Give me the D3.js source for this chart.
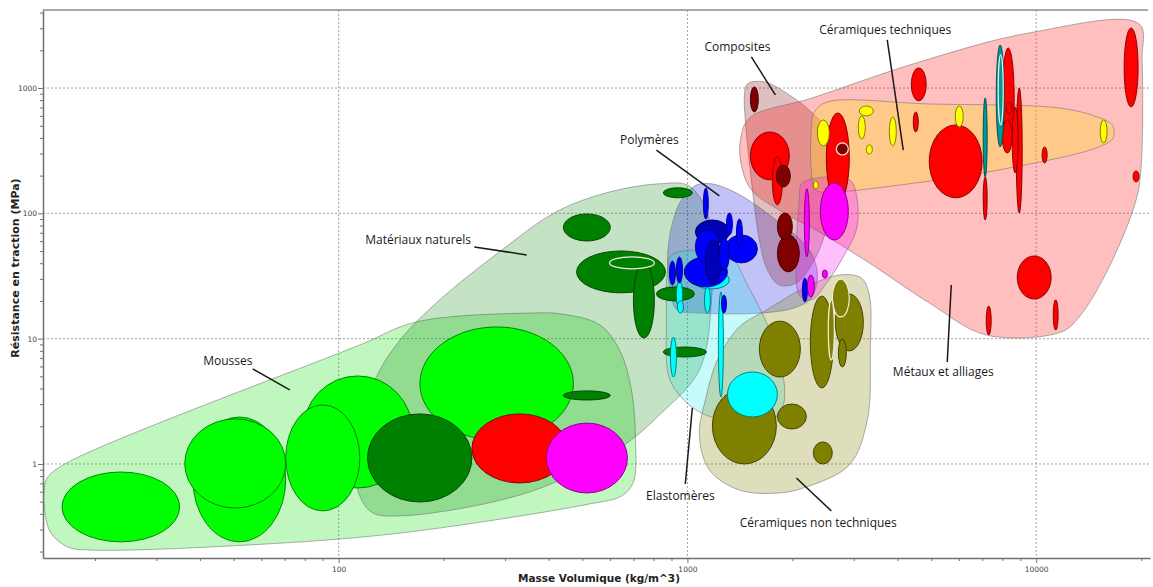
<!DOCTYPE html>
<html><head><meta charset="utf-8">
<script src="https://cdn.jsdelivr.net/npm/d3@7"></script>
<style>body{margin:0;background:#fff}svg{display:block}</style>
</head><body>
<svg id="c" width="1153" height="587"></svg>
<script>
// ---------- axes data ----------
const xDomain = [14.2, 21200];      // Masse volumique (kg/m^3)
const yDomain = [0.1777, 4194];     // Résistance en traction (MPa)
const xMajor = [100, 1000, 10000];
const yMajor = [1, 10, 100, 1000];
const xTitle = "Masse Volumique (kg/m^3)";
const yTitle = "Résistance en traction (MPa)";

// ---------- material bubbles: density range r, strength range s ----------
const mousses = [
  {k:"foam", r:[16.1,35.0], s:[0.239,0.863]},
  {k:"foam", r:[38.2,70.5], s:[0.239,2.37]},
  {k:"foam", r:[36.2,70.5], s:[0.445,2.29]},
  {k:"foam", r:[78.9,163], s:[0.643,5.04]},
  {k:"foam", r:[70.5,115], s:[0.422,2.96]},
  {k:"foam", r:[171,471], s:[1.55,12.4]},
  {k:"metal", r:[241,453], s:[0.705,2.51]},
  {k:"magenta", r:[394,673], s:[0.587,2.12]}
];
const naturels = [
  {k:"natural", r:[121,241], s:[0.497,2.51]},
  {k:"natural", r:[441,601], s:[3.24,3.83]},
  {k:"natural", r:[853,1033], s:[133,160]},
  {k:"natural", r:[441,601], s:[60.2,98.9]},
  {k:"natural", r:[481,865], s:[23.2,50.1]},
  {k:"natural", r:[700,804], s:[10.1,40.2]},
  {k:"natural", r:[598,804], s:[36.0,44.9], sel:true},
  {k:"natural", r:[815,1047], s:[20.0,25.9]},
  {k:"natural", r:[853,1133], s:[7.14,8.58]}
];
const ceramNonTech = [
  {k:"olive", r:[1179,1799], s:[1.0,4.04]},
  {k:"olive", r:[1608,2108], s:[4.94,13.8]},
  {k:"olive", r:[1811,2193], s:[1.90,3.01]},
  {k:"olive", r:[2296,2603], s:[1.0,1.50]},
  {k:"olive", r:[2251,2620], s:[4.04,21.9]},
  {k:"olive", r:[2656,3194], s:[7.98,22.7]},
  {k:"olive", r:[2603,2912], s:[14.9,29.9], sel:true},
  {k:"olive", r:[2709,2855], s:[5.94,9.94]},
  {k:"olive", r:[2535,2638], s:[6.76,20.4], sel:true}
];
const elastomeres = [
  {k:"cyan", r:[1302,1811], s:[2.37,5.42]},
  {k:"cyan", r:[1040,1319], s:[24.9,34.7]},
  {k:"cyan", r:[930,968], s:[17.3,28.9]},
  {k:"cyan", r:[936,974], s:[16.0,20.0]},
  {k:"cyan", r:[894,930], s:[4.94,10.3]},
  {k:"cyan", r:[1119,1164], s:[16.0,25.9]},
  {k:"cyan", r:[1227,1268], s:[3.43,23.6]}
];
const polymeres = [
  {k:"blue", r:[980,1302], s:[25.9,44.9]},
  {k:"navy", r:[1054,1319], s:[57.0,88.6]},
  {k:"blue", r:[1285,1587], s:[40.2,67.2]},
  {k:"blue", r:[1054,1235], s:[39.5,73.7]},
  {k:"navy", r:[1126,1252], s:[27.3,61.3]},
  {k:"blue", r:[1235,1319], s:[35.3,63.6]},
  {k:"blue", r:[1111,1148], s:[90.2,159.5]},
  {k:"blue", r:[1294,1346], s:[67.2,100.7]},
  {k:"blue", r:[1382,1438], s:[53.9,90.2]},
  {k:"blue", r:[888,924], s:[26.8,41.7]},
  {k:"blue", r:[930,968], s:[27.8,44.9]},
  {k:"blue", r:[1252,1294], s:[16.0,22.3]},
  {k:"blue", r:[2136,2208], s:[19.6,30.5]}
];
const metaux = [
  {k:"metal", r:[1515,1960], s:[185,446]},
  {k:"metal", r:[1752,1872], s:[117,282]},
  {k:"metal", r:[2502,2912], s:[121,633]},
  {k:"metal", r:[4935,7002], s:[133,508]},
  {k:"metal", r:[4384,4839], s:[789,1447]},
  {k:"metal", r:[4442,4591], s:[446,644]},
  {k:"metal", r:[17870,19600], s:[707,3017]},
  {k:"metal", r:[18960,19730], s:[178,218]},
  {k:"metal", r:[10400,10750], s:[252,339]},
  {k:"metal", r:[8823,11040], s:[20.7,45.7]},
  {k:"metal", r:[7189,7431], s:[10.7,18.2]},
  {k:"metal", r:[11190,11560], s:[11.7,20.4]},
  {k:"metal", r:[7991,8650], s:[320,2089]},
  {k:"metal", r:[8765,9119], s:[100.7,1002]},
  {k:"metal", r:[8535,8880], s:[210,707]},
  {k:"metal", r:[7991,8535], s:[303,556]},
  {k:"metal", r:[7047,7236], s:[88.6,195]},
  {k:"metal", r:[8204,8535], s:[621,774]}
];
const composites = [
  {k:"maroon", r:[1515,1597], s:[644,1021]},
  {k:"maroon", r:[1799,1973], s:[162,243]},
  {k:"maroon", r:[1811,2000], s:[61.3,100.7]},
  {k:"maroon", r:[1811,2094], s:[34.1,67.2]},
  {k:"maroon", r:[2673,2893], s:[292,365], sel:true}
];
const ceramTech = [
  {k:"yellow", r:[2358,2552], s:[345,556]},
  {k:"yellow", r:[3111,3412], s:[599,719]},
  {k:"yellow", r:[3090,3236], s:[392,599]},
  {k:"yellow", r:[3792,3971], s:[345,588]},
  {k:"yellow", r:[3258,3389], s:[298,351]},
  {k:"yellow", r:[2296,2373], s:[157,181]},
  {k:"yellow", r:[5861,6177], s:[489,719]},
  {k:"yellow", r:[15260,15970], s:[365,556]},
  {k:"teal", r:[7681,8096], s:[339,2208]},
  {k:"teal", r:[7783,8043], s:[508,1837], sel:true},
  {k:"teal", r:[7047,7236], s:[195,834]}
];
const mousseCeram = [
  {k:"magenta", r:[2405,2893], s:[61.3,175]},
  {k:"magenta", r:[2164,2237], s:[44.9,157]},
  {k:"magenta", r:[2208,2312], s:[21.5,32.2]},
  {k:"magenta", r:[2437,2519], s:[30.5,35.3]}
];

// ---------- family envelopes (density, strength) ----------
const envMousses = [[14.6,0.773],[16.4,1.0],[115,8.91],[167,13.6],[353,16.0],[438,15.7],[560,12.9],[639,8.12],[691,3.90],[710,1.55],[700,0.718],[647,0.555],[524,0.480],[150,0.281],[55.6,0.226],[19.3,0.206],[16.7,0.218],[14.9,0.287],[14.3,0.471],[14.3,0.620]];
const envNaturels = [[1013,165],[831,172],[598,148],[421,103],[289,49.2],[195,20.4],[150,9.76],[127,4.68],[113,1.55],[113,0.643],[124,0.414],[150,0.385],[353,0.598],[639,1.34],[831,2.46],[1082,5.62],[1172,20.4],[1156,88.6]];
const envPolymeres = [[903,20.4],[877,42.5],[903,80.8],[961,128],[1061,168],[1172,172],[1364,148],[1718,97.1],[2237,51.0],[2358,32.2],[2266,21.1],[2026,17.6],[1608,16.0],[1082,16.0],[936,16.9]];
const envElastomeres = [[877,35.3],[903,46.6],[1082,51.0],[1319,46.6],[1486,26.8],[1696,12.9],[1859,6.17],[1884,2.96],[1741,2.24],[1364,2.16],[1082,2.60],[948,3.55],[882,5.13],[871,14.1]];
const envCeramNT = [[2727,32.2],[3152,30.5],[3323,22.3],[3345,8.12],[3279,2.24],[2912,0.982],[2193,0.655],[1834,0.587],[1409,0.620],[1156,0.896],[1082,1.70],[1126,3.24],[1219,6.76],[1409,12.4],[1684,16.9],[2193,25.9]];
const envComposites = [[1486,1078],[1662,1119],[1960,881],[2312,610],[2638,385],[2727,203],[2552,88.6],[2312,42.5],[2053,27.8],[1834,26.8],[1696,35.3],[1608,61.3],[1525,185],[1466,556],[1457,881]];
const envMetaux = [[1506,577],[2281,834],[4531,1585],[9550,2752],[19730,3248],[20120,1675],[19990,235],[19340,128],[16190,37.4],[13280,14.9],[11790,11.3],[7189,10.7],[4935,19.3],[3323,40.2],[2389,71.0],[1834,106],[1525,154],[1428,243],[1419,385]];
const envCeramTech = [[2312,644],[2519,774],[4935,746],[11640,693],[14660,599],[16510,508],[16620,400],[15150,339],[8368,230],[4050,168],[2552,148],[2328,154],[2266,222],[2266,463]];
const envMousseCeram = [[2136,175],[2912,185],[3070,128],[3050,73.7],[2818,46.6],[2519,28.3],[2266,20.4],[2094,22.3],[2053,51.0],[2094,128]];

// ---------- labels ----------
const labels = [
  {t:"Mousses", at:[48.1,6.64], from:[56.7,5.73], to:[72.4,3.90]},
  {t:"Matériaux naturels", at:[169,61.3], from:[245,53.9], to:[346,46.6]},
  {t:"Polymères", at:[778,385], from:[815,320], to:[1235,138]},
  {t:"Composites", at:[1391,2128], from:[1525,1771], to:[1787,881]},
  {t:"Céramiques techniques", at:[3693,2909], from:[3741,2420], to:[4158,320]},
  {t:"Métaux et alliages", at:[5414,5.42], from:[5559,6.52], to:[5708,26.8]},
  {t:"Elastomères", at:[955,0.555], from:[986,0.692], to:[1033,2.80]},
  {t:"Céramiques non techniques", at:[2373,0.338], from:[2586,0.422], to:[2053,0.773]}
];

// ---------- styles ----------
const fillOf = {foam:"#00ff00", natural:"#008000", metal:"#ff0000", magenta:"#ff00ff",
  blue:"#0000ff", navy:"#0000b8", cyan:"#00ffff", maroon:"#800000", yellow:"#ffff00",
  teal:"#009898", olive:"#808000"};
const envStyle = [
  [envMousses, "#00e000", 0.25],
  [envNaturels, "#008000", 0.23],
  [envPolymeres, "#0000e0", 0.24],
  [envElastomeres, "#00e8e8", 0.22],
  [envCeramNT, "#808000", 0.26],
  [envComposites, "#800000", 0.25],
  [envMetaux, "#ff0000", 0.25],
  [envCeramTech, "#ffdc32", 0.38],
  [envMousseCeram, "#ff00ff", 0.25]
];
const families = [mousses, naturels, ceramNonTech, elastomeres, polymeres, metaux, composites, ceramTech, mousseCeram];

// ---------- drawing ----------
const L = 43, R = 1150, T = 10, B = 558;
const svg = d3.select("#c");
const x = d3.scaleLog().domain(xDomain).range([L, R]);
const y = d3.scaleLog().domain(yDomain).range([B, T]);

const clip = svg.append("defs").append("clipPath").attr("id","pa");
clip.append("rect").attr("x",L).attr("y",T).attr("width",R-L).attr("height",B-T);

// grid
const grid = svg.append("g").attr("stroke","#8a8a8a").attr("stroke-width",0.8).attr("stroke-dasharray","2,2");
xMajor.forEach(v => grid.append("line").attr("x1",x(v)).attr("x2",x(v)).attr("y1",T).attr("y2",B));
yMajor.forEach(v => grid.append("line").attr("x1",L).attr("x2",R).attr("y1",y(v)).attr("y2",y(v)));

const plot = svg.append("g").attr("clip-path","url(#pa)");

// envelopes
const envLine = d3.line().x(d => x(d[0])).y(d => y(d[1])).curve(d3.curveCatmullRomClosed.alpha(0.5));
envStyle.forEach(([pts, col, op]) => {
  plot.append("path").attr("d", envLine(pts))
    .attr("fill", col).attr("fill-opacity", op)
    .attr("stroke", "#6e6e6e").attr("stroke-opacity", 0.55).attr("stroke-width", 1);
});

// bubbles
families.forEach(fam => {
  const items = fam.slice().sort((a,b) =>
    (Math.log(b.r[1]/b.r[0])*Math.log(b.s[1]/b.s[0])) - (Math.log(a.r[1]/a.r[0])*Math.log(a.s[1]/a.s[0])));
  items.forEach(d => {
    const x0 = x(d.r[0]), x1 = x(d.r[1]), y0 = y(d.s[1]), y1 = y(d.s[0]);
    const f = fillOf[d.k];
    plot.append("ellipse")
      .attr("cx",(x0+x1)/2).attr("cy",(y0+y1)/2)
      .attr("rx",(x1-x0)/2).attr("ry",(y1-y0)/2)
      .attr("fill", f)
      .attr("stroke", d.sel ? "#eeeedd" : d3.color(f).darker(2.2))
      .attr("stroke-width", d.sel ? 1.2 : 0.9);
  });
});

// axes
const tickLen = v => ((xMajor.includes(v) || yMajor.includes(v)) ? 5 : 3);
const ax = svg.append("g").attr("transform",`translate(0,${B})`)
  .call(d3.axisBottom(x).tickValues(x.ticks()).tickFormat(v => xMajor.includes(v) ? String(v) : "").tickSizeOuter(0));
const ay = svg.append("g").attr("transform",`translate(${L},0)`)
  .call(d3.axisLeft(y).tickValues(y.ticks()).tickFormat(v => yMajor.includes(v) ? String(v) : "").tickSizeOuter(0));
[ax, ay].forEach(g => {
  g.select(".domain").attr("stroke","#707070").attr("stroke-width",1.5);
  g.selectAll(".tick line").attr("stroke","#707070");
  g.selectAll("text").attr("fill","#444").style("font-family","'DejaVu Sans', sans-serif").style("font-size","7.5px");
});
ax.selectAll(".tick line").attr("y2", v => tickLen(v));
ax.selectAll(".tick text").attr("y", 9);
ay.selectAll(".tick line").attr("x2", v => -tickLen(v));
ay.selectAll(".tick text").attr("x", -6);
// top frame
svg.append("line").attr("x1",L).attr("x2",R-2).attr("y1",T).attr("y2",T).attr("stroke","#8c8c8c").attr("stroke-width",1.5);

// axis titles
svg.append("text").attr("x",599).attr("y",582).attr("text-anchor","middle")
  .style("font-family","'DejaVu Sans', Verdana, sans-serif").style("font-size","10.5px").style("font-weight","bold")
  .attr("fill","#222").text(xTitle);
svg.append("text").attr("transform",`translate(19,${(T+B)/2-16}) rotate(-90)`).attr("text-anchor","middle")
  .style("font-family","'DejaVu Sans', Verdana, sans-serif").style("font-size","11px").style("font-weight","bold")
  .attr("fill","#222").text(yTitle);

// labels
const lg = svg.append("g");
labels.forEach(l => {
  lg.append("line").attr("x1",x(l.from[0])).attr("y1",y(l.from[1])).attr("x2",x(l.to[0])).attr("y2",y(l.to[1]))
    .attr("stroke","#1a1a1a").attr("stroke-width",1.5);
  lg.append("text").attr("x",x(l.at[0])).attr("y",y(l.at[1])).attr("dy","0.35em").attr("text-anchor","middle")
    .style("font-family","'Open Sans', sans-serif").style("font-size","12px").attr("fill","#1a1a1a").text(l.t);
});
</script>
</body></html>
